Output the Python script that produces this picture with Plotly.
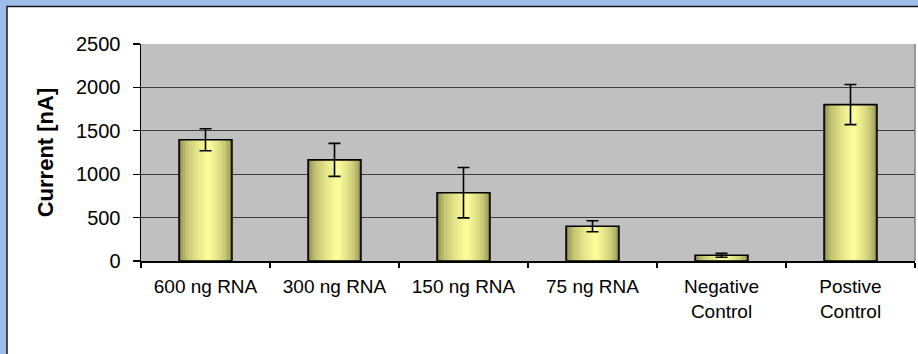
import plotly.graph_objects as go

categories = ["600 ng RNA", "300 ng RNA", "150 ng RNA", "75 ng RNA",
              "Negative<br>Control", "Postive<br>Control"]
current_nA = [1397, 1165, 787, 400, 66, 1802]
error_nA = [127, 190, 290, 63, 22, 231]
y_ticks = [0, 500, 1000, 1500, 2000, 2500]

W, H = 918, 354
ML, MR, MT, MB = 141, 3, 44, 93
pw = W - ML - MR
ph = H - MT - MB

BAR_W = 0.41
PEAK = 0.55  # position of the light band across the bar

def lerp(a, b, t):
    return a + (b - a) * t

def hexrgb(h):
    h = h.lstrip("#")
    return tuple(int(h[i:i + 2], 16) for i in (0, 2, 4))

edge_c = hexrgb("#808046")
peak_c = hexrgb("#ffff9c")

fig = go.Figure()

K = 16
for k in range(K):
    t = k / K
    left = lerp(0.0, PEAK, t)
    right = lerp(1.0, PEAK, t)
    if k == K - 1:
        left, right = PEAK - 0.05, PEAK + 0.05
    s = t ** 0.45
    col = "rgb(%d,%d,%d)" % tuple(round(lerp(e, p, s)) for e, p in zip(edge_c, peak_c))
    fig.add_trace(go.Bar(
        x=categories, y=current_nA,
        width=BAR_W * (right - left),
        offset=-BAR_W / 2 + BAR_W * left,
        marker=dict(color=col, line=dict(width=0)),
        showlegend=False, hoverinfo="skip",
    ))

fig.add_trace(go.Bar(
    x=categories, y=current_nA,
    width=BAR_W, offset=-BAR_W / 2,
    marker=dict(color="rgba(0,0,0,0)", line=dict(color="black", width=1.6)),
    error_y=dict(type="data", array=error_nA, visible=True,
                 color="black", thickness=1.6, width=6),
    showlegend=False, hoverinfo="skip",
))

# slide-like background: blue strips around a white panel with a dark frame
px2x = lambda p: (p - ML) / pw
px2y = lambda p: (H - MB - p) / ph
blue = "#9dbde6"
fig.add_shape(type="rect", xref="paper", yref="paper",
              x0=px2x(-5), x1=px2x(930), y0=px2y(-5), y1=px2y(6.5),
              fillcolor=blue, line=dict(width=0), layer="below")
fig.add_shape(type="rect", xref="paper", yref="paper",
              x0=px2x(-5), x1=px2x(7), y0=px2y(-5), y1=px2y(380),
              fillcolor=blue, line=dict(width=0), layer="below")
fig.add_shape(type="path", xref="paper", yref="paper",
              path="M %f %f L %f %f L %f %f" % (px2x(7), px2y(380), px2x(7), px2y(6.5),
                                             px2x(940), px2y(6.5)),
              line=dict(color="#1a1a1a", width=1.5), layer="below")
fig.add_shape(type="line", xref="paper", yref="paper",
              x0=1, x1=1, y0=0, y1=1, line=dict(color="#808080", width=1.5))

font = dict(family="Arial, Liberation Sans, sans-serif", color="black", size=19)
yfont = dict(family="Arial, Liberation Sans, sans-serif", color="black", size=20)

fig.update_layout(
    width=W, height=H,
    margin=dict(l=ML, r=MR, t=MT, b=MB, autoexpand=False),
    paper_bgcolor="white",
    plot_bgcolor="#c0c0c0",
    barmode="overlay",
    bargap=0,
    font=font,
    showlegend=False,
    xaxis=dict(
        type="category", automargin=False,
        showline=True, linecolor="black", linewidth=1.5,
        ticks="outside", tickson="boundaries", ticklen=5, tickcolor="black",
        tickwidth=1.2, ticklabelstandoff=8,
        showgrid=False, tickfont=font,
    ),
    yaxis=dict(
        range=[0, 2500], tickvals=y_ticks, automargin=False,
        showline=True, linecolor="black", linewidth=1.5,
        ticks="outside", ticklen=7, tickcolor="black", tickwidth=1.2,
        ticklabelstandoff=8,
        showgrid=True, gridcolor="#3c3c3c", gridwidth=1,
        zeroline=False, tickfont=yfont,
        title=dict(text="<b>Current [nA]</b>", standoff=16,
                   font=dict(family="Arial, Liberation Sans, sans-serif",
                             size=22, color="black")),
    ),
)

fig.write_html("out.html",
               config={"displayModeBar": False, "staticPlot": True},
               post_script="document.body.style.margin='0';"
                           "document.body.style.overflow='hidden';")
